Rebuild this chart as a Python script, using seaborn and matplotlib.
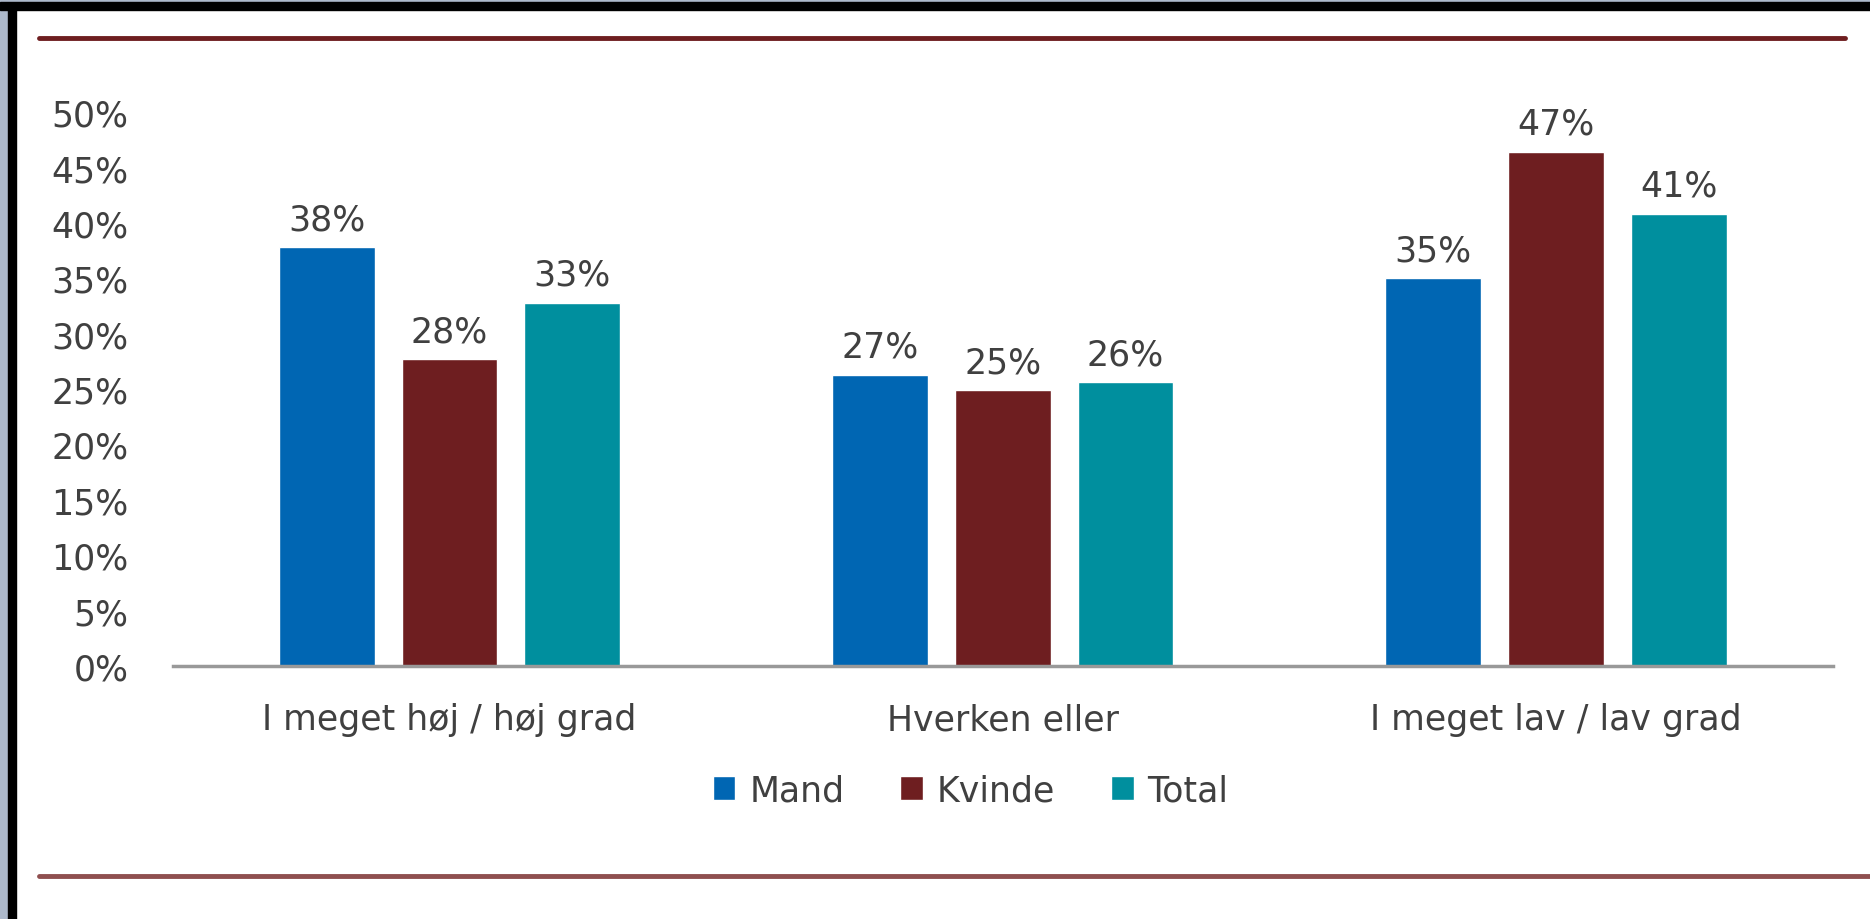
import pandas as pd
import seaborn as sns
import matplotlib.pyplot as plt
from matplotlib.patches import Rectangle, Patch
from matplotlib.lines import Line2D

# answer categories and groups
kategorier = ['I meget høj / høj grad', 'Hverken eller', 'I meget lav / lav grad']
grupper = ['Mand', 'Kvinde', 'Total']

# bar heights (percent)
mand = [37.8, 26.3, 35.0]
kvinde = [27.7, 24.9, 46.4]
total = [32.8, 25.6, 40.8]

# printed labels above the bars
mand_lbl = ['38%', '27%', '35%']
kvinde_lbl = ['28%', '25%', '47%']
total_lbl = ['33%', '26%', '41%']

yticks = [0, 5, 10, 15, 20, 25, 30, 35, 40, 45, 50]

farver = {'Mand': '#0066B3', 'Kvinde': '#6E1E20', 'Total': '#008F9E'}
tekst = '#404040'
fs = 25

df = pd.DataFrame({
    'svar': kategorier * 3,
    'gruppe': ['Mand'] * 3 + ['Kvinde'] * 3 + ['Total'] * 3,
    'pct': mand + kvinde + total,
})

sns.set_style('white')
plt.rcParams['font.family'] = ['DejaVu Sans']

fig = plt.figure(figsize=(18.7, 9.2), dpi=100)
ax = fig.add_axes([0.0925, 0.275, 0.8875, 0.602])

sns.barplot(data=df, x='svar', y='pct', hue='gruppe', hue_order=grupper,
            order=kategorier, palette=farver, width=0.666, gap=0.22,
            saturation=1, legend=False, ax=ax)

# value labels
for cont, lbl in zip(ax.containers, [mand_lbl, kvinde_lbl, total_lbl]):
    ax.bar_label(cont, labels=lbl, padding=8, fontsize=fs, color=tekst)

ax.set_ylim(0, 50)
ax.set_xlim(-0.5, 2.5)
ax.set_yticks(yticks)
ax.set_yticklabels([f'{t}%' for t in yticks])
ax.tick_params(axis='both', length=0, labelsize=fs, labelcolor=tekst)
ax.tick_params(axis='y', pad=32)
ax.tick_params(axis='x', pad=26)
ax.set_xlabel('')
ax.set_ylabel('')
for s in ['top', 'right', 'left']:
    ax.spines[s].set_visible(False)
ax.spines['bottom'].set_color('#999999')
ax.spines['bottom'].set_linewidth(2.5)

# legend with square markers
handles = [Patch(facecolor=farver[g], label=g) for g in grupper]
fig.legend(handles=handles, loc='center', bbox_to_anchor=(0.519, 0.14),
           ncol=3, frameon=False, fontsize=fs, labelcolor=tekst,
           handlelength=0.66, handleheight=0.66, handletextpad=0.4,
           columnspacing=1.6)

# decorative rules and frame
fig.add_artist(Line2D([39 / 1870, 1845 / 1870], [1 - 39 / 920, 1 - 39 / 920],
                      color='#6E1E20', linewidth=3.5))
fig.add_artist(Line2D([39 / 1870, 1.0], [1 - 877 / 920, 1 - 877 / 920],
                      color='#8F4F4F', linewidth=3.5))
fig.add_artist(Rectangle((0, 0), 8 / 1870, 1, transform=fig.transFigure,
                         color='#ADB9CB'))
fig.add_artist(Rectangle((8 / 1870, 0), 8 / 1870, 1, transform=fig.transFigure,
                         color='black'))
fig.add_artist(Rectangle((0, 1 - 3 / 920), 1, 3 / 920, transform=fig.transFigure,
                         color='#ADB9CB'))
fig.add_artist(Rectangle((0, 1 - 11 / 920), 1, 8 / 920, transform=fig.transFigure,
                         color='black'))

fig.savefig('out.png', dpi=100, facecolor='white')
